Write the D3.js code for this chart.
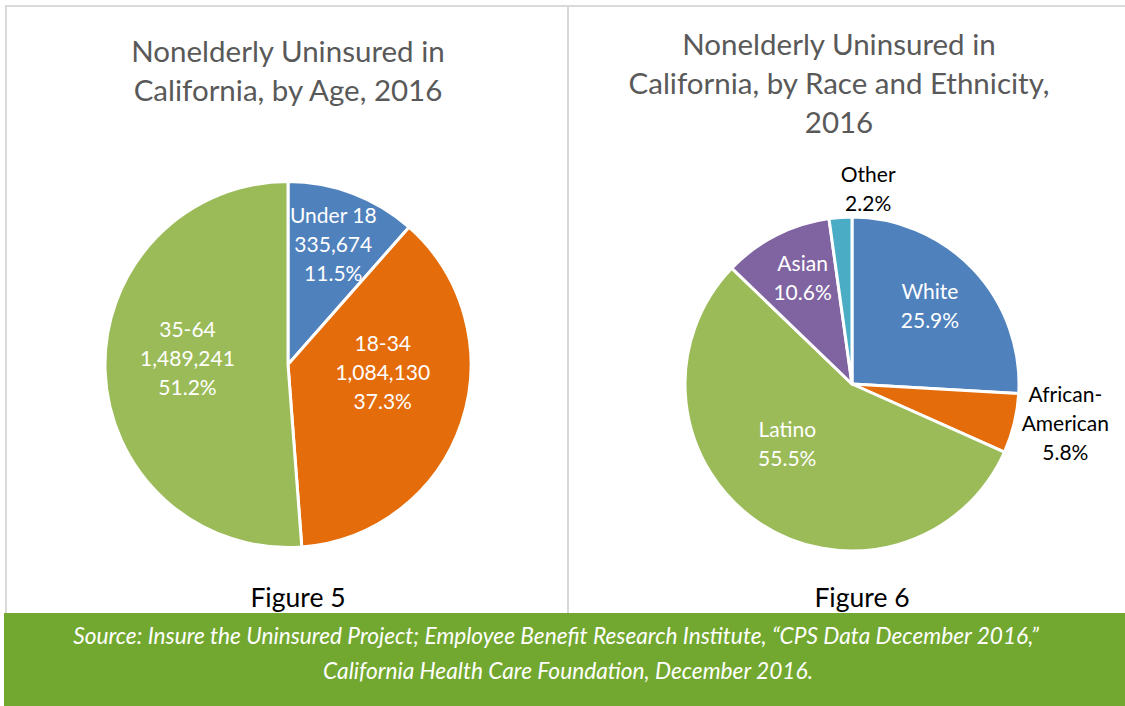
<!DOCTYPE html>
<html>
<head>
<meta charset="utf-8">
<script src="https://cdn.jsdelivr.net/npm/d3@7"></script>
<style>
  html, body { margin: 0; padding: 0; background: #fff; }
  svg { display: block; font-family: Lato, "Open Sans", sans-serif; }
</style>
</head>
<body>
<svg id="chart" width="1125" height="706"></svg>
<script>
// 数据
var ageNames = ["Under 18", "18-34", "35-64"];
var ageCounts = [335674, 1084130, 1489241];
var agePcts = [11.5, 37.3, 51.2];

var raceNames = ["White", "African-American", "Latino", "Asian", "Other"];
var racePcts = [25.9, 5.8, 55.5, 10.6, 2.2];

var colors5 = ["#4f81bd", "#e46c0a", "#9bbb59", "#8064a2", "#4bacc6"];
var colorsAge = ["#4f81bd", "#e46c0a", "#9bbb59"];

// 标签位置 [半径比例, 角度偏移(度)]
var ageLabelPos = [[0.70, 0], [0.52, -13.4], [0.55, 5.3]];
var raceLabelPos = [[0.66, -1.6], [1.30, -3], [0.53, 13], [0.70, 2], [1.17, 8.7]];

var svg = d3.select("#chart");
var fmt = d3.format(",");

// 边框
var frame = svg.append("g")
  .attr("stroke", "#d9d9d9")
  .attr("stroke-width", 2);
frame.append("line").attr("x1", 5).attr("y1", 6).attr("x2", 1125).attr("y2", 6);
frame.append("line").attr("x1", 6).attr("y1", 5).attr("x2", 6).attr("y2", 614);
frame.append("line").attr("x1", 568).attr("y1", 5).attr("x2", 568).attr("y2", 614);

// 标题
function title(lines, cx, y0) {
  var t = svg.append("text")
    .attr("text-anchor", "middle")
    .attr("fill", "#595959")
    .style("font-size", "29.5px");
  lines.forEach(function(s, i) {
    t.append("tspan").attr("x", cx).attr("y", y0 + i * 39).text(s);
  });
}
title(["Nonelderly Uninsured in", "California, by Age, 2016"], 288, 62);
title(["Nonelderly Uninsured in", "California, by Race and Ethnicity,", "2016"], 839, 55);

// 饼图
function drawPie(opts) {
  var pie = d3.pie().sort(null).value(function(d) { return d.v; });
  var arc = d3.arc().innerRadius(0).outerRadius(opts.r);
  var g = svg.append("g")
    .attr("transform", "translate(" + opts.cx + "," + opts.cy + ")");
  var arcs = pie(opts.data);

  g.selectAll("path")
    .data(arcs)
    .enter()
    .append("path")
    .attr("d", arc)
    .attr("fill", function(d, i) { return opts.colors[i]; })
    .attr("stroke", "#fff")
    .attr("stroke-width", 3)
    .attr("stroke-linejoin", "round");

  arcs.forEach(function(d, i) {
    var pos = opts.labelPos[i];
    var a = (d.startAngle + d.endAngle) / 2 + pos[1] * Math.PI / 180;
    var rr = opts.r * pos[0];
    var x = rr * Math.sin(a), y = -rr * Math.cos(a);
    var lines = opts.lines(d.data, i);
    var lh = 29;
    var t = g.append("text")
      .attr("text-anchor", "middle")
      .attr("fill", pos[0] > 1 ? "#000" : "#fff")
      .style("font-size", "21px");
    lines.forEach(function(s, k) {
      t.append("tspan")
        .attr("x", x)
        .attr("y", y + (k - (lines.length - 1) / 2) * lh + 7)
        .text(s);
    });
  });
}

drawPie({
  cx: 288, cy: 364.5, r: 183,
  data: ageNames.map(function(n, i) { return { name: n, count: ageCounts[i], v: agePcts[i] }; }),
  colors: colorsAge,
  labelPos: ageLabelPos,
  lines: function(d) { return [d.name, fmt(d.count), d.v.toFixed(1) + "%"]; }
});

drawPie({
  cx: 852, cy: 384, r: 167,
  data: raceNames.map(function(n, i) { return { name: n, v: racePcts[i] }; }),
  colors: colors5,
  labelPos: raceLabelPos,
  lines: function(d) {
    if (d.name === "African-American") return ["African-", "American", d.v.toFixed(1) + "%"];
    return [d.name, d.v.toFixed(1) + "%"];
  }
});

// 图号
svg.append("text").attr("x", 298).attr("y", 607).attr("text-anchor", "middle")
  .attr("fill", "#000").style("font-size", "26.5px").text("Figure 5");
svg.append("text").attr("x", 862).attr("y", 607).attr("text-anchor", "middle")
  .attr("fill", "#000").style("font-size", "26.5px").text("Figure 6");

// 底部来源
svg.append("rect").attr("x", 4).attr("y", 613).attr("width", 1121).attr("height", 93)
  .attr("fill", "#72a82f");
var src = svg.append("text").attr("text-anchor", "middle").attr("fill", "#fff")
  .style("font-size", "22.7px").style("font-style", "italic");
src.append("tspan").attr("x", 556).attr("y", 644)
  .text("Source: Insure the Uninsured Project; Employee Benefit Research Institute, \u201cCPS Data December 2016,\u201d");
src.append("tspan").attr("x", 568).attr("y", 679)
  .text("California Health Care Foundation, December 2016.");
</script>
</body>
</html>
